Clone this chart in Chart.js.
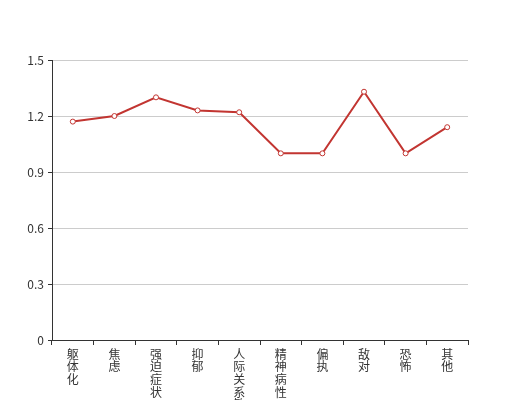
<!DOCTYPE html>
<html>
<head>
<meta charset="utf-8">
<script src="https://cdn.jsdelivr.net/npm/chart.js@4"></script>
<style>
  html, body { margin: 0; padding: 0; background: #fff; }
  #wrap { width: 520px; height: 400px; }
</style>
</head>
<body>
<div id="wrap"><canvas id="chart" width="520" height="400"></canvas></div>
<script>
// ── DATA ──
const categories = ['躯体化', '焦虑', '强迫症状', '抑郁', '人际关系敏感', '精神病性', '偏执', '敌对', '恐怖', '其他'];
const scores = [1.17, 1.2, 1.3, 1.23, 1.22, 1.0, 1.0, 1.33, 1.0, 1.14];
const yTicks = [0, 0.3, 0.6, 0.9, 1.2, 1.5];

// ── STYLE ──
const FONT = "'Noto Sans CJK SC', sans-serif";
const AXIS = '#333';
const RED = '#c23531';

Chart.defaults.font.family = FONT;
Chart.defaults.font.size = 12;
Chart.defaults.color = AXIS;

// vertical labels: one character per line
const labels = categories.map(c => c.split(''));

new Chart(document.getElementById('chart'), {
  type: 'line',
  data: {
    labels,
    datasets: [{
      data: scores,
      borderColor: RED,
      borderWidth: 2,
      pointRadius: 2.5,
      pointBorderWidth: 1,
      pointBackgroundColor: '#fff',
      pointBorderColor: RED,
      tension: 0,
      fill: false
    }]
  },
  options: {
    responsive: false,
    animation: false,
    layout: { padding: { top: 60, right: 52, left: 0, bottom: 0 } },
    plugins: { legend: { display: false }, tooltip: { enabled: false } },
    scales: {
      x: {
        type: 'category',
        offset: true,
        border: { color: AXIS, width: 1 },
        grid: { offset: true, drawOnChartArea: false, tickLength: 5, tickColor: AXIS },
        ticks: {
          maxRotation: 0,
          autoSkip: false,
          padding: 3,
          color: AXIS,
          font: { family: FONT, size: 12, lineHeight: 1.05 }
        },
        afterFit: s => { s.height = 60; }
      },
      y: {
        min: 0,
        max: 1.5,
        border: { color: AXIS, width: 1 },
        grid: { color: '#ccc', tickLength: 4, tickColor: AXIS },
        afterBuildTicks: s => { s.ticks = yTicks.map(v => ({ value: v })); },
        ticks: {
          padding: 4,
          color: AXIS,
          callback: v => String(v)
        },
        afterFit: s => { s.width = 52; }
      }
    }
  }
});
</script>
</body>
</html>
